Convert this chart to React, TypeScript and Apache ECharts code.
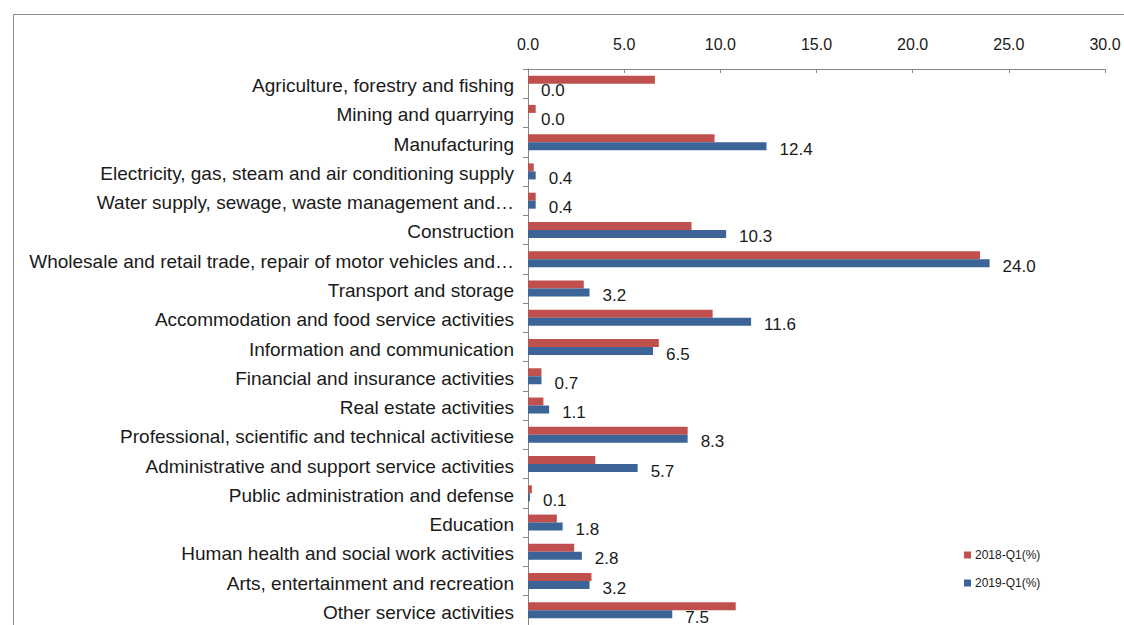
import React, { useEffect, useRef } from "react";
import * as echarts from "echarts";

const categories = [
  "Agriculture, forestry and fishing",
  "Mining and quarrying",
  "Manufacturing",
  "Electricity, gas, steam and air conditioning supply",
  "Water supply, sewage, waste management and…",
  "Construction",
  "Wholesale and retail trade, repair of motor vehicles and…",
  "Transport and storage",
  "Accommodation and food service activities",
  "Information and communication",
  "Financial and insurance activities",
  "Real estate activities",
  "Professional, scientific and technical activitiese",
  "Administrative and support service activities",
  "Public administration and defense",
  "Education",
  "Human health and social work activities",
  "Arts, entertainment and recreation",
  "Other service activities",
];

const values2018 = [6.6, 0.4, 9.7, 0.3, 0.4, 8.5, 23.5, 2.9, 9.6, 6.8, 0.7, 0.8, 8.3, 3.5, 0.2, 1.5, 2.4, 3.3, 10.8];
const values2019 = [0.0, 0.0, 12.4, 0.4, 0.4, 10.3, 24.0, 3.2, 11.6, 6.5, 0.7, 1.1, 8.3, 5.7, 0.1, 1.8, 2.8, 3.2, 7.5];

const seriesNames = ["2018-Q1(%)", "2019-Q1(%)"];
const xTicks = { min: 0, max: 30, interval: 5 };

export default function App() {
  const ref = useRef<HTMLDivElement>(null);
  useEffect(() => {
    if (!ref.current) return;
    const chart = echarts.init(ref.current, null, { renderer: "svg" });
    chart.setOption({
      animation: false,
      backgroundColor: "#ffffff",
      graphic: [
        {
          type: "rect",
          shape: { x: 13.5, y: 14.5, width: 1200, height: 700 },
          style: { fill: "none", stroke: "#8c8c8c", lineWidth: 1 },
          silent: true,
        },
      ],
      legend: {
        orient: "vertical",
        left: 959,
        top: 544,
        itemWidth: 7,
        itemHeight: 7,
        itemGap: 16,
        icon: "rect",
        textStyle: { fontFamily: "Liberation Sans", fontSize: 12, color: "#1a1a1a", padding: [0, 0, 0, -1] },
        data: seriesNames,
      },
      grid: { left: 528, right: 19, top: 69, bottom: 0, containLabel: false },
      xAxis: {
        type: "value",
        position: "top",
        min: xTicks.min,
        max: xTicks.max,
        interval: xTicks.interval,
        axisLine: { show: true, lineStyle: { color: "#868686" } },
        axisTick: { show: true, inside: true, length: 4, lineStyle: { color: "#868686" } },
        splitLine: { show: false },
        axisLabel: {
          formatter: (v: number) => v.toFixed(1),
          fontFamily: "Liberation Sans",
          fontSize: 16,
          color: "#1a1a1a",
          margin: 17,
        },
      },
      yAxis: {
        type: "category",
        inverse: true,
        data: categories,
        axisLine: { show: true, lineStyle: { color: "#868686" } },
        axisTick: { show: true, length: 5, lineStyle: { color: "#868686" } },
        axisLabel: {
          fontFamily: "Liberation Sans",
          fontSize: 19,
          color: "#1a1a1a",
          margin: 14,
          formatter: (v: string) => "{a|" + v + "}",
          rich: {
            a: {
              fontFamily: "Liberation Sans",
              fontSize: 19,
              color: "#1a1a1a",
              padding: [4, 0, 0, 0],
            },
          },
        },
      },
      series: [
        {
          name: seriesNames[0],
          type: "bar",
          data: values2018,
          barWidth: 8,
          barGap: "0%",
          itemStyle: { color: "#C0504D" },
        },
        {
          name: seriesNames[1],
          type: "bar",
          data: values2019,
          barWidth: 8,
          barGap: "0%",
          itemStyle: { color: "#3C6496" },
          label: {
            show: true,
            position: "right",
            distance: 13,
            offset: [0, 3],
            formatter: (p: any) => Number(p.value).toFixed(1),
            fontFamily: "Liberation Sans",
            fontSize: 17,
            color: "#1a1a1a",
          },
        },
      ],
    });
    return () => chart.dispose();
  }, []);
  return (
    <div
      ref={ref}
      style={{ position: "fixed", left: 0, top: 0, width: 1124, height: 625 }}
    />
  );
}
